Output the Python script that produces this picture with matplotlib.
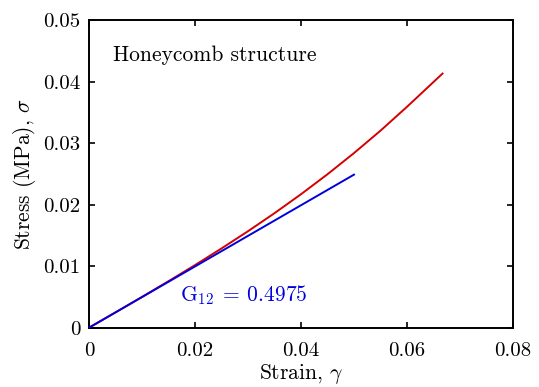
import matplotlib
matplotlib.use("Agg")
import matplotlib.pyplot as plt
import numpy as np

plt.rcParams["font.family"] = "serif"
plt.rcParams["font.serif"] = ["cmr10"]
plt.rcParams["mathtext.fontset"] = "cm"
plt.rcParams["axes.unicode_minus"] = False
plt.rcParams["axes.formatter.use_mathtext"] = True

# simulated shear response of the honeycomb
strain = [0.0, 0.005, 0.010, 0.015, 0.020, 0.025, 0.030, 0.035,
          0.040, 0.045, 0.050, 0.055, 0.060, 0.0667]
stress = [0.0, 0.00249, 0.00500, 0.00756, 0.01017, 0.01288, 0.01568, 0.01861,
          0.02169, 0.02494, 0.02838, 0.03202, 0.03590, 0.04130]

# linear fit through the origin
G12 = 0.4975
fit_strain = np.array([0.0, 0.05])
fit_stress = G12 * fit_strain

xticks = [0, 0.02, 0.04, 0.06, 0.08]
xticklabels = ["0", "0.02", "0.04", "0.06", "0.08"]
yticks = [0, 0.01, 0.02, 0.03, 0.04, 0.05]
yticklabels = ["0", "0.01", "0.02", "0.03", "0.04", "0.05"]

fig = plt.figure(figsize=(5.39, 3.87), dpi=100)
ax = fig.add_axes([0.1651, 0.1532, 0.7867, 0.7951])

ax.plot(strain, stress, color="#d40000", lw=1.4, zorder=2)
ax.plot(fit_strain, fit_stress, color="#0000dd", lw=1.4, zorder=3)

ax.set_xlim(0, 0.08)
ax.set_ylim(0, 0.05)
ax.set_xticks(xticks)
ax.set_xticklabels(xticklabels)
ax.set_yticks(yticks)
ax.set_yticklabels(yticklabels)
ax.tick_params(direction="in", top=True, right=True, length=4, width=1.2,
               labelsize=15)
ax.tick_params(axis="x", pad=10)
ax.tick_params(axis="y", pad=6)
for s in ax.spines.values():
    s.set_linewidth(1.4)

ax.set_xlabel(r"Strain, $\gamma$", fontsize=15.5, labelpad=2)
ax.set_ylabel(r"Stress (MPa), $\sigma$", fontsize=15.5, labelpad=4)

ax.text(0.0046, 0.0443, "Honeycomb structure", fontsize=15.5,
        ha="left", va="center", color="black")
ax.text(0.0172, 0.0053, r"$\mathrm{G}_{12}\:=\:" + f"{G12}" + "$", fontsize=15.5,
        ha="left", va="center", color="#0000dd")

fig.savefig("out.png", dpi=100)
